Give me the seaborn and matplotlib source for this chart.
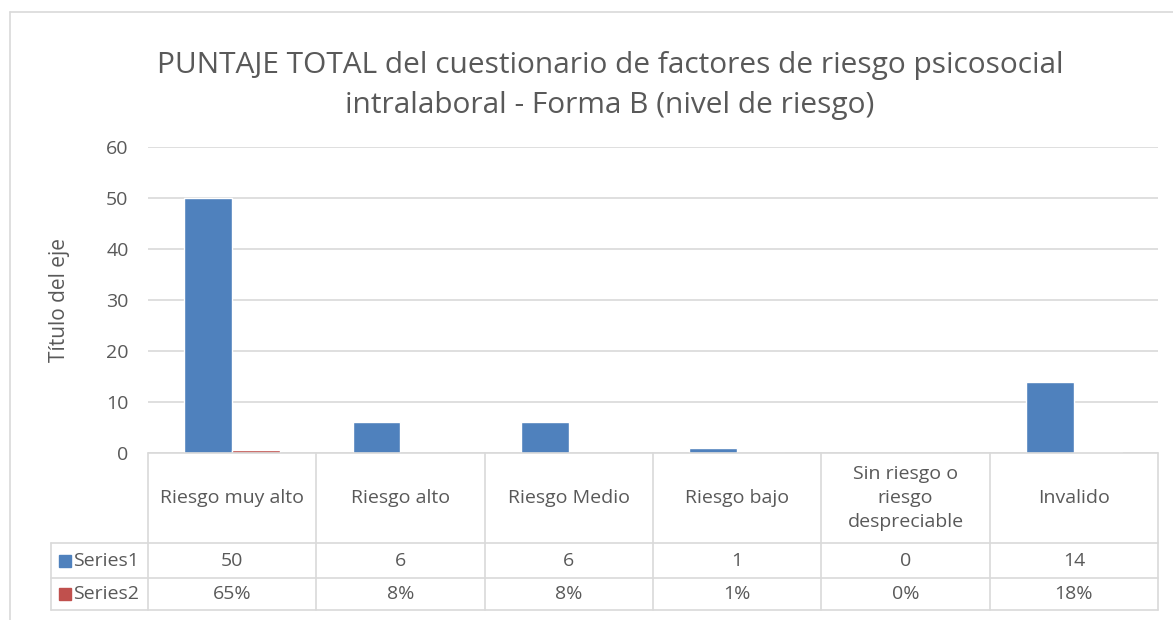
import pandas as pd
import numpy as np
import matplotlib
matplotlib.use("Agg")
import matplotlib.pyplot as plt
import matplotlib.transforms as mtransforms
from matplotlib.lines import Line2D
from matplotlib.patches import Rectangle
import seaborn as sns

# data
categories = ["Riesgo muy alto", "Riesgo alto", "Riesgo Medio", "Riesgo bajo",
              "Sin riesgo o\nriesgo\ndespreciable", "Invalido"]
series1 = [50, 6, 6, 1, 0, 14]
series2 = [0.65, 0.08, 0.08, 0.01, 0.0, 0.18]
series2_labels = ["65%", "8%", "8%", "1%", "0%", "18%"]
yticks = [0, 10, 20, 30, 40, 50, 60]

title = "PUNTAJE TOTAL del cuestionario de factores de riesgo psicosocial\nintralaboral - Forma B (nivel de riesgo)"
ylabel = "Título del eje"

blue = "#4F81BD"
red = "#C0504D"
txt = "#595959"
grid = "#D9D9D9"

df = pd.DataFrame({
    "cat": categories * 2,
    "value": series1 + series2,
    "serie": ["Series1"] * len(categories) + ["Series2"] * len(categories),
})

sns.set_style("white")
plt.rcParams["font.family"] = ["Open Sans", "DejaVu Sans"]

fig = plt.figure(figsize=(11.73, 6.2), dpi=100)
ax = fig.add_axes([148 / 1173, 1 - 453 / 620, 1010 / 1173, 306 / 620])

sns.barplot(data=df, x="cat", y="value", hue="serie", order=categories,
            palette=[blue, red], width=0.57, saturation=1, ax=ax, legend=False)

ax.set_ylim(0, 60)
ax.set_xlim(-0.5, len(categories) - 0.5)
ax.set_yticks(yticks)
ax.set_yticklabels([str(t) for t in yticks], fontsize=14, color=txt)
ax.set_xticks([])
ax.set_xlabel("")
ax.set_ylabel(ylabel, fontsize=15, color=txt, labelpad=26)
ax.tick_params(axis="y", length=0, pad=14)
ax.yaxis.grid(True, color=grid, linewidth=1.2)
ax.set_axisbelow(True)
for s in ax.spines.values():
    s.set_visible(False)

fig.text(0.52, 0.917, title, ha="center", va="top", fontsize=21.5,
         color=txt, linespacing=1.5)

# data table below the axis
trans = mtransforms.blended_transform_factory(ax.transData, fig.transFigure)
def fy(p):
    return 1 - p / 620

y0, y1, y2, y3 = fy(453), fy(543), fy(578), fy(610)
xl = 51 / 1173
lc = dict(color=grid, linewidth=1.2)
n = len(categories)
# horizontal lines
fig.add_artist(Line2D([-0.5, n - 0.5], [y0, y0], transform=trans, **lc))
for yy in (y1, y2, y3):
    fig.add_artist(Line2D([xl, 1158 / 1173], [yy, yy], transform=fig.transFigure, **lc))
# vertical lines
for i in range(n + 1):
    fig.add_artist(Line2D([i - 0.5, i - 0.5], [y0, y3], transform=trans, **lc))
fig.add_artist(Line2D([xl, xl], [y1, y3], transform=fig.transFigure, **lc))

for i, c in enumerate(categories):
    fig.text(i, (y0 + y1) / 2, c, transform=trans, ha="center", va="center",
             fontsize=14, color=txt, linespacing=1.45)
    fig.text(i, (y1 + y2) / 2, str(series1[i]), transform=trans, ha="center",
             va="center", fontsize=14, color=txt)
    fig.text(i, (y2 + y3) / 2, series2_labels[i], transform=trans, ha="center",
             va="center", fontsize=14, color=txt)

for yy, col, name in [((y1 + y2) / 2, blue, "Series1"), ((y2 + y3) / 2, red, "Series2")]:
    fig.add_artist(Rectangle((59 / 1173, yy - 6 / 620), 12 / 1173, 12 / 620,
                             transform=fig.transFigure, color=col))
    fig.text(73 / 1173, yy, name, ha="left", va="center", fontsize=14, color=txt)

# chart frame
fig.add_artist(Line2D([10 / 1173, 10 / 1173], [0, fy(12)], transform=fig.transFigure, **lc))
fig.add_artist(Line2D([10 / 1173, 1], [fy(12), fy(12)], transform=fig.transFigure, **lc))

fig.savefig("out.png", dpi=100, facecolor="white")
